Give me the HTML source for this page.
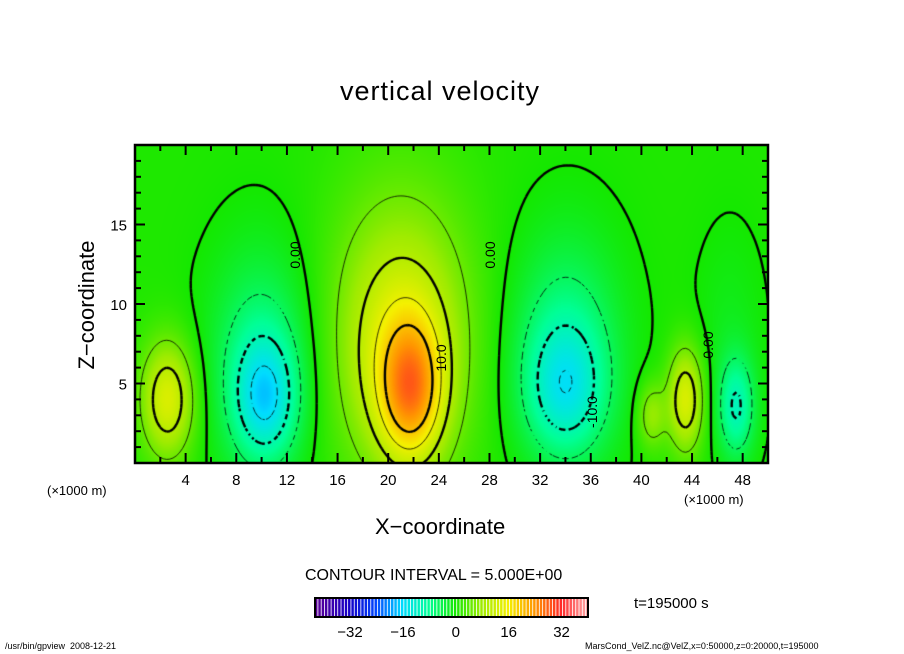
<!DOCTYPE html>
<html><head><meta charset="utf-8"><style>
body{margin:0;background:#fff;}
#root{position:relative;width:904px;height:654px;overflow:hidden;font-family:"Liberation Sans",sans-serif;}
.t{position:absolute;white-space:nowrap;color:#000;}
</style></head><body>
<div id="root">
<div class="t" style="left:340px;top:76px;font-size:27px;letter-spacing:1px;">vertical velocity</div>
<canvas id="cv" width="633" height="318" style="position:absolute;left:135px;top:145px;"></canvas>
<svg id="sv" width="904" height="654" style="position:absolute;left:0;top:0;"></svg>
<div class="t" style="left:375px;top:514px;font-size:22px;">X−coordinate</div>
<div class="t" style="left:22px;top:292px;font-size:22px;transform:rotate(-90deg);transform-origin:center;width:130px;text-align:center;">Z−coordinate</div>
<div class="t" style="left:47px;top:483px;font-size:13px;">(×1000 m)</div>
<div class="t" style="left:684px;top:492px;font-size:13px;">(×1000 m)</div>
<div class="t" style="left:305px;top:567px;font-size:16px;">CONTOUR INTERVAL = 5.000E+00</div>
<div class="t" style="left:634px;top:595px;font-size:15px;">t=195000 s</div>
<div class="t" style="left:5px;top:641px;font-size:9px;">/usr/bin/gpview &nbsp;2008-12-21</div>
<div class="t" style="left:585px;top:641px;font-size:9px;">MarsCond_VelZ.nc@VelZ,x=0:50000,z=0:20000,t=195000</div>
</div>
<script>
const blobX=[2.6,10.3,10,21.8,21,34,34,43.5,40.8,47.5,21,10,34,47];
const blobZ=[4,4,6,4.5,7,4.5,7,4,3,3.5,9,7,8,8];
const blobAmp=[13,-11,-5,16,8,-9,-5,13,7,-10,6,-3,-3,-2];
const blobSX=[1.5,1.7,2.6,1.7,3.3,2.2,2.8,1.0,0.8,1.0,4.2,3.2,3.4,2];
const blobSZ=[2.6,2.6,4.5,3.0,5,2.8,4.5,2.3,1.5,2.2,7,5.5,5.5,5];
const cbTicks=[-32,-16,0,16,32];
const yTicks=[5,10,15];
const xTicks=[4,8,12,16,20,24,28,32,36,40,44,48];
const PX=135,PY=145,PW=633,PH=318;
const sx=x=>PX+x/50*PW, sy=z=>PY+PH-z/20*PH;
function field(x,z){let v=0.6;for(let i=0;i<blobX.length;i++){const dx=(x-blobX[i])/blobSX[i],dz=(z-blobZ[i])/blobSZ[i];v+=blobAmp[i]*Math.exp(-0.5*(dx*dx+dz*dz));}return v;}
const stops=[[-42,[90,0,150]],[-32,[20,0,200]],[-24,[0,70,255]],[-16,[0,220,255]],[-8,[0,255,150]],[0,[20,232,0]],[8,[160,235,0]],[16,[245,240,0]],[24,[255,150,0]],[32,[255,40,40]],[40,[255,170,170]]];
function cmap(v){if(v<=stops[0][0])return stops[0][1];for(let i=1;i<stops.length;i++){if(v<=stops[i][0]){const a=stops[i-1],b=stops[i],t=(v-a[0])/(b[0]-a[0]);return a[1].map((c,k)=>c+(b[1][k]-c)*t);}}return stops[stops.length-1][1];}
const cv=document.getElementById('cv'),ctx=cv.getContext('2d');
const img=ctx.createImageData(PW,PH);
for(let j=0;j<PH;j++)for(let i=0;i<PW;i++){const x=(i+0.5)/PW*50,z=(PH-j-0.5)/PH*20;const c=cmap(field(x,z));const p=(j*PW+i)*4;img.data[p]=c[0];img.data[p+1]=c[1];img.data[p+2]=c[2];img.data[p+3]=255;}
ctx.putImageData(img,0,0);
const levels=[-15,-10,-5,0,5,10,15,20];
const NX=200,NZ=80,G=[];
for(let j=0;j<=NZ;j++){G[j]=[];for(let i=0;i<=NX;i++)G[j][i]=field(i*50/NX,j*20/NZ);}
levels.forEach(L=>{
 const thick=(L%10===0);
 ctx.lineWidth=thick?2.4:0.8;ctx.strokeStyle='#000';
 const px=i=>i/NX*PW, pz=j=>PH-j/NZ*PH;
 ctx.beginPath();
 for(let j=0;j<NZ;j++)for(let i=0;i<NX;i++){
  const a=G[j][i],b=G[j][i+1],c=G[j+1][i+1],d=G[j+1][i];
  const pts=[];
  const ed=(v1,v2,x1,z1,x2,z2)=>{if((v1<L)!==(v2<L)){const t=(L-v1)/(v2-v1);pts.push([px(x1+(x2-x1)*t),pz(z1+(z2-z1)*t)]);}};
  ed(a,b,i,j,i+1,j);ed(b,c,i+1,j,i+1,j+1);ed(c,d,i+1,j+1,i,j+1);ed(d,a,i,j+1,i,j);
  for(let k=0;k+1<pts.length;k+=2){
   if(L<0 && ((i+j)%3===0)) continue;
   ctx.moveTo(pts[k][0],pts[k][1]);ctx.lineTo(pts[k+1][0],pts[k+1][1]);}
 }
 ctx.stroke();
});
const sv=document.getElementById('sv');const NS='http://www.w3.org/2000/svg';
function el(t,a,txt){const e=document.createElementNS(NS,t);for(const k in a)e.setAttribute(k,a[k]);if(txt!==undefined)e.textContent=txt;sv.appendChild(e);return e;}
let r=el('rect',{x:PX,y:PY,width:PW,height:PH,fill:'none',stroke:'#000','stroke-width':2.5});


for(let x=2;x<50;x+=2){const maj=x%4===0,len=maj?10:6;
 el('line',{x1:sx(x),x2:sx(x),y1:PY+PH,y2:PY+PH-len,stroke:'#000','stroke-width':2});
 el('line',{x1:sx(x),x2:sx(x),y1:PY,y2:PY+len,stroke:'#000','stroke-width':2});}
for(let z=1;z<20;z++){const maj=z%5===0,len=maj?10:6;
 el('line',{x1:PX,x2:PX+len,y1:sy(z),y2:sy(z),stroke:'#000','stroke-width':2});
 el('line',{x1:PX+PW,x2:PX+PW-len,y1:sy(z),y2:sy(z),stroke:'#000','stroke-width':2});}
xTicks.forEach(x=>{const t=el('text',{x:sx(x),y:485,'font-size':15,'text-anchor':'middle','font-family':'Liberation Sans'},x);
 
 });
yTicks.forEach(z=>{const t=el('text',{x:127,y:sy(z)+6,'font-size':15,'text-anchor':'end','font-family':'Liberation Sans'},z);
 
 });
[[300,255,'0.00',-90],[495,255,'0.00',-90],[446,358,'10.0',-90],[713,345,'0.00',-90],[597,412,'-10.0',-90]].forEach(l=>{
 const t=el('text',{x:l[0],y:l[1],'font-size':14,'text-anchor':'middle','font-family':'Liberation Sans',transform:`rotate(${l[3]} ${l[0]} ${l[1]})`},l[2]);
 
 });
const CBX=315,CBW=273,CBY=598,CBH=19,vmin=-42.6,vmax=40;
const cbx=v=>CBX+(v-vmin)/(vmax-vmin)*CBW;
for(let v=vmin;v<vmax;v+=1){const c=cmap(v+0.5);
 const s=el('rect',{x:cbx(v),y:CBY,width:CBW/(vmax-vmin)*0.75,height:CBH,fill:`rgb(${c.map(Math.round).join(',')})`});
 
 }
const cf=el('rect',{x:CBX,y:CBY,width:CBW,height:CBH,fill:'none',stroke:'#000','stroke-width':2});


cbTicks.forEach(v=>{const t=el('text',{x:cbx(v),y:637,'font-size':15,'text-anchor':'middle','font-family':'Liberation Sans'},v<0?'−'+(-v):v);
 
 });
</script>
</body></html>
